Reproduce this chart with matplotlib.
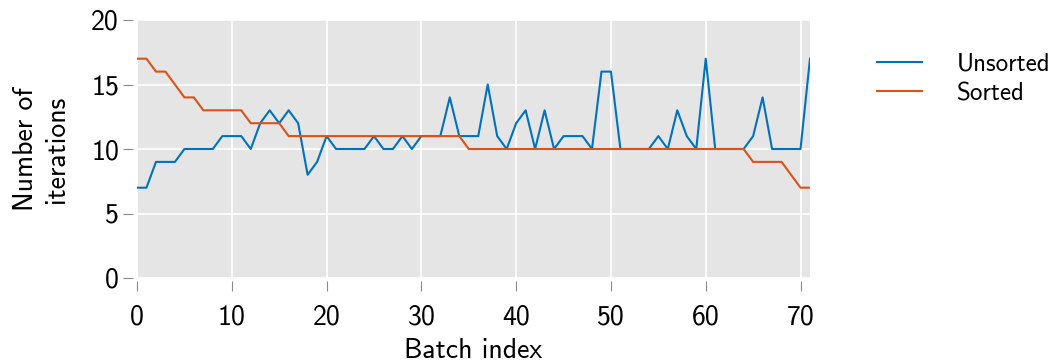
import numpy as np
import matplotlib
matplotlib.use('Agg')
from matplotlib import pyplot as plt

plt.rcParams['font.family'] = ['cmss10', 'DejaVu Sans']
plt.rcParams['axes.unicode_minus'] = False
plt.rcParams['mathtext.fontset'] = 'cm'

unsorted = [7, 7, 9, 9, 9, 10, 10, 10, 10, 11, 11, 11, 10, 12, 13, 12, 13, 12, 8, 9,
            11, 10, 10, 10, 10, 11, 10, 10, 11, 10, 11, 11, 11, 14, 11, 11, 11, 15, 11, 10,
            12, 13, 10, 13, 10, 11, 11, 11, 10, 16, 16, 10, 10, 10, 10, 11, 10, 13, 11, 10,
            17, 10, 10, 10, 10, 11, 14, 10, 10, 10, 10, 17]
sorted_ = [17, 17, 16, 16, 15, 14, 14, 13, 13, 13, 13, 13, 12, 12, 12, 12, 11, 11, 11, 11,
           11, 11, 11, 11, 11, 11, 11, 11, 11, 11, 11, 11, 11, 11, 11, 10, 10, 10, 10, 10,
           10, 10, 10, 10, 10, 10, 10, 10, 10, 10, 10, 10, 10, 10, 10, 10, 10, 10, 10, 10,
           10, 10, 10, 10, 10, 9, 9, 9, 9, 8, 7, 7]
batch = np.arange(len(unsorted))
xticks = [0, 10, 20, 30, 40, 50, 60, 70]
yticks = [0, 5, 10, 15, 20]

fig = plt.figure(figsize=(10.55, 3.63), dpi=100)
ax = fig.add_axes([137/1055, 1-278/363, (810-137)/1055, (278-20)/363])
ax.set_facecolor('#e5e5e5')

ax.plot(batch, unsorted, color='#0072BD', lw=1.5, label='Unsorted')
ax.plot(batch, sorted_, color='#D95319', lw=1.5, label='Sorted')

ax.set_xlim(0, 71)
ax.set_ylim(0, 20)
ax.set_xticks(xticks)
ax.set_yticks(yticks)
ax.grid(color='white', lw=1.2)
ax.set_axisbelow(True)
for s in ax.spines.values():
    s.set_visible(False)
ax.spines['left'].set_position(('outward', 3))
ax.spines['bottom'].set_position(('outward', 2))
ax.tick_params(direction='out', length=7, width=0.8, color='#888888', labelsize=20)
ax.tick_params(axis='y', pad=3)
ax.tick_params(axis='x', pad=10)

ax.set_xlabel('Batch index', fontsize=20, labelpad=6)
ax.set_ylabel('Number of\niterations', fontsize=20, labelpad=16, linespacing=1.3)

ax.legend(loc='upper left', bbox_to_anchor=(1.066, 0.96), frameon=False,
          fontsize=18, handlelength=1.8, handletextpad=1.4, labelspacing=0.25)

fig.savefig('out.png', dpi=100)
